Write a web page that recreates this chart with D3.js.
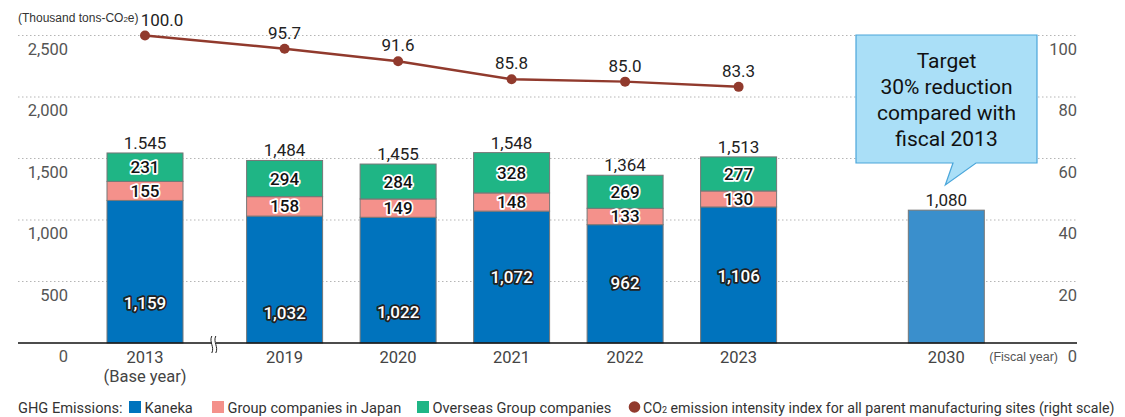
<!DOCTYPE html>
<html>
<head>
<meta charset="utf-8">
<script src="https://cdn.jsdelivr.net/npm/d3@7"></script>
<style>
  body { margin: 0; background: #fff; }
  svg { font-family: Roboto, "Noto Sans", sans-serif; }
  .halo { paint-order: stroke; stroke-linejoin: round; }
</style>
</head>
<body>
<div id="chart"></div>
<script>
// data
var years = ["2013", "2019", "2020", "2021", "2022", "2023"];
var yearSlots = [0, 1.23, 2.23, 3.23, 4.23, 5.23];
var kaneka = [1159, 1032, 1022, 1072, 962, 1106];
var groupJapan = [155, 158, 149, 148, 133, 130];
var overseas = [231, 294, 284, 328, 269, 277];
var totalLabels = ["1.545", "1,484", "1,455", "1,548", "1,364", "1,513"];
var intensity = [100.0, 95.7, 91.6, 85.8, 85.0, 83.3];
var targetYear = "2030", targetSlot = 7.06, targetValue = 1080, targetLabel = "1,080";
var leftTicks = [0, 500, 1000, 1500, 2000, 2500];
var rightTicks = [0, 20, 40, 60, 80, 100];
var calloutLines = ["Target", "30% reduction", "compared with", "fiscal 2013"];

// where the white Kaneka numbers sit inside the blue segment (fraction from the bottom)
var blueLabelFrac = [0.28, 0.24, 0.25, 0.5, 0.51, 0.49];

var W = 1125, H = 417;
var svg = d3.select("#chart").append("svg").attr("width", W).attr("height", H);

var x = d3.scaleLinear().domain([0, 1]).range([145, 258.5]);
var y = d3.scaleLinear().domain([0, 2500]).range([343, 35.5]);
var yR = d3.scaleLinear().domain([0, 100]).range([343, 35.5]);
var barW = 76;

var cBlue = "#0073bd", cPink = "#f4918b", cGreen = "#1fb585", cLine = "#913a2d";

// grid
svg.append("g").selectAll("line").data(leftTicks.slice(1)).enter().append("line")
  .attr("x1", 18).attr("x2", 1078)
  .attr("y1", function (d) { return y(d); }).attr("y2", function (d) { return y(d); })
  .attr("stroke", "#b5b5b5").attr("stroke-width", 1).attr("stroke-dasharray", "1.5,2.5");

// left tick labels
svg.append("g").selectAll("text").data(leftTicks).enter().append("text")
  .attr("x", 68).attr("y", function (d) { return y(d) + 19; })
  .attr("text-anchor", "end").attr("font-size", 16.5).attr("fill", "#555")
  .text(function (d) { return d3.format(",")(d); });

// right tick labels
svg.append("g").selectAll("text").data(rightTicks).enter().append("text")
  .attr("x", 1077).attr("y", function (d) { return yR(d) + 19; })
  .attr("text-anchor", "end").attr("font-size", 16.5).attr("fill", "#555")
  .text(function (d) { return d; });

// stacked bars
var rows = years.map(function (yr, i) {
  return { year: yr, slot: yearSlots[i], kaneka: kaneka[i], japan: groupJapan[i], overseas: overseas[i], total: totalLabels[i], frac: blueLabelFrac[i] };
});
var stack = d3.stack().keys(["kaneka", "japan", "overseas"])(rows);
var colors = { kaneka: cBlue, japan: cPink, overseas: cGreen };

stack.forEach(function (layer) {
  svg.append("g").selectAll("rect").data(layer).enter().append("rect")
    .attr("x", function (d) { return x(d.data.slot) - barW / 2; })
    .attr("y", function (d) { return y(d[1]); })
    .attr("width", barW)
    .attr("height", function (d) { return y(d[0]) - y(d[1]); })
    .attr("fill", colors[layer.key])
    .attr("stroke", "#777").attr("stroke-width", 1);
});

stack.forEach(function (layer) {
  var isBlue = layer.key === "kaneka";
  svg.append("g").selectAll("text").data(layer).enter().append("text")
    .attr("class", "halo")
    .attr("x", function (d) { return x(d.data.slot); })
    .attr("y", function (d) {
      return isBlue ? y(d[0] + (d[1] - d[0]) * d.data.frac) + 6 : (y(d[0]) + y(d[1])) / 2 + 6;
    })
    .attr("text-anchor", "middle").attr("font-size", 17).attr("font-weight", 500)
    .attr("fill", isBlue ? "#fff" : "#111")
    .attr("stroke", isBlue ? "#222" : "#fff").attr("stroke-width", 3.5)
    .text(function (d) { return d3.format(",")(d[1] - d[0]); });
});

// totals
svg.append("g").selectAll("text").data(rows).enter().append("text")
  .attr("x", function (d) { return x(d.slot); })
  .attr("y", function (d) { return y(d.kaneka + d.japan + d.overseas) - 4; })
  .attr("text-anchor", "middle").attr("font-size", 17).attr("fill", "#222")
  .text(function (d) { return d.total; });

// 2030 target bar
svg.append("rect")
  .attr("x", x(targetSlot) - barW / 2).attr("y", y(targetValue))
  .attr("width", barW).attr("height", y(0) - y(targetValue))
  .attr("fill", "#3a8fcc").attr("stroke", "#777").attr("stroke-width", 1);
svg.append("text")
  .attr("x", x(targetSlot)).attr("y", y(targetValue) - 4)
  .attr("text-anchor", "middle").attr("font-size", 17).attr("fill", "#222")
  .text(targetLabel);

// baseline
svg.append("line").attr("x1", 18).attr("x2", 1077).attr("y1", y(0)).attr("y2", y(0))
  .attr("stroke", "#111").attr("stroke-width", 1.5);

// break mark
var bx = (x(yearSlots[0]) + x(yearSlots[1])) / 2 - 1;
var brk = svg.append("g").attr("transform", "translate(" + bx + "," + (y(0) + 1) + ")");
brk.append("rect").attr("x", -2).attr("y", -4).attr("width", 4).attr("height", 8).attr("fill", "#fff");
[-2, 2].forEach(function (dx) {
  brk.append("path")
    .attr("d", "M" + dx + ",-8 C" + (dx - 3) + ",-2 " + (dx + 3) + ",3 " + dx + ",9")
    .attr("fill", "none").attr("stroke", "#222").attr("stroke-width", 1);
});

// category labels
svg.append("g").selectAll("text").data(years.concat([targetYear])).enter().append("text")
  .attr("x", function (d, i) { return x(i < years.length ? yearSlots[i] : targetSlot); })
  .attr("y", 363).attr("text-anchor", "middle").attr("font-size", 16.5).attr("fill", "#444")
  .text(function (d) { return d; });
svg.append("text").attr("x", x(yearSlots[0])).attr("y", 382)
  .attr("text-anchor", "middle").attr("font-size", 16.5).attr("fill", "#444").text("(Base year)");
svg.append("text").attr("x", 1058).attr("y", 361)
  .attr("text-anchor", "end").attr("font-size", 12.5)
  .attr("font-family", "'Liberation Sans Narrow', 'Liberation Sans', sans-serif")
  .attr("fill", "#555").text("(Fiscal year)");

// axis title
svg.append("text").attr("x", 18).attr("y", 22).attr("font-size", 12)
  .attr("font-family", "'Liberation Sans Narrow', 'Liberation Sans', sans-serif")
  .attr("fill", "#333")
  .html("(Thousand tons-CO<tspan font-size='8'>2</tspan>e)");

// intensity line
var pts = years.map(function (yr, i) { return { slot: yearSlots[i], v: intensity[i] }; });
svg.append("path").datum(pts)
  .attr("d", d3.line().x(function (d) { return x(d.slot); }).y(function (d) { return yR(d.v); }))
  .attr("fill", "none").attr("stroke", cLine).attr("stroke-width", 2.5);
svg.append("g").selectAll("circle").data(pts).enter().append("circle")
  .attr("cx", function (d) { return x(d.slot); }).attr("cy", function (d) { return yR(d.v); })
  .attr("r", 5).attr("fill", cLine);
svg.append("g").selectAll("text").data(pts).enter().append("text")
  .attr("x", function (d, i) { return x(d.slot) + (i === 0 ? 17 : 0); })
  .attr("y", function (d, i) { return yR(d.v) - 10; })
  .attr("text-anchor", "middle").attr("font-size", 17).attr("fill", "#222")
  .text(function (d) { return d3.format(".1f")(d.v); });

// callout
var cx0 = 856, cx1 = 1037, cy0 = 35, cy1 = 163, tipX = x(targetSlot) - 1, tipY = 185;
svg.append("path")
  .attr("d", "M" + cx0 + "," + cy0 + "H" + cx1 + "V" + cy1 + "H976L" + tipX + "," + tipY + "L953," + cy1 + "H" + cx0 + "Z")
  .attr("fill", "#aadff7").attr("stroke", "#4ba6da").attr("stroke-width", 1.2);
svg.append("g").selectAll("text").data(calloutLines).enter().append("text")
  .attr("x", (cx0 + cx1) / 2).attr("y", function (d, i) { return 68 + i * 26; })
  .attr("text-anchor", "middle").attr("font-size", 21).attr("fill", "#111")
  .text(function (d) { return d; });

// legend
var lg = svg.append("g").attr("font-size", 14.6).attr("fill", "#333");
var ly = 413;
lg.append("text").attr("x", 18).attr("y", ly).text("GHG Emissions:");
var items = [
  { x: 129, color: cBlue, label: "Kaneka" },
  { x: 212, color: cPink, label: "Group companies in Japan" },
  { x: 417, color: cGreen, label: "Overseas Group companies" }
];
items.forEach(function (it) {
  lg.append("rect").attr("x", it.x).attr("y", ly - 12).attr("width", 12).attr("height", 12).attr("fill", it.color);
  lg.append("text").attr("x", it.x + 15.5).attr("y", ly).text(it.label);
});
lg.append("circle").attr("cx", 634.5).attr("cy", ly - 6).attr("r", 5.8).attr("fill", cLine);
lg.append("text").attr("x", 643).attr("y", ly).attr("font-size", 14.2)
  .html("CO<tspan font-size='9'>2</tspan> emission intensity index for all parent manufacturing sites (right scale)");
</script>
</body>
</html>
